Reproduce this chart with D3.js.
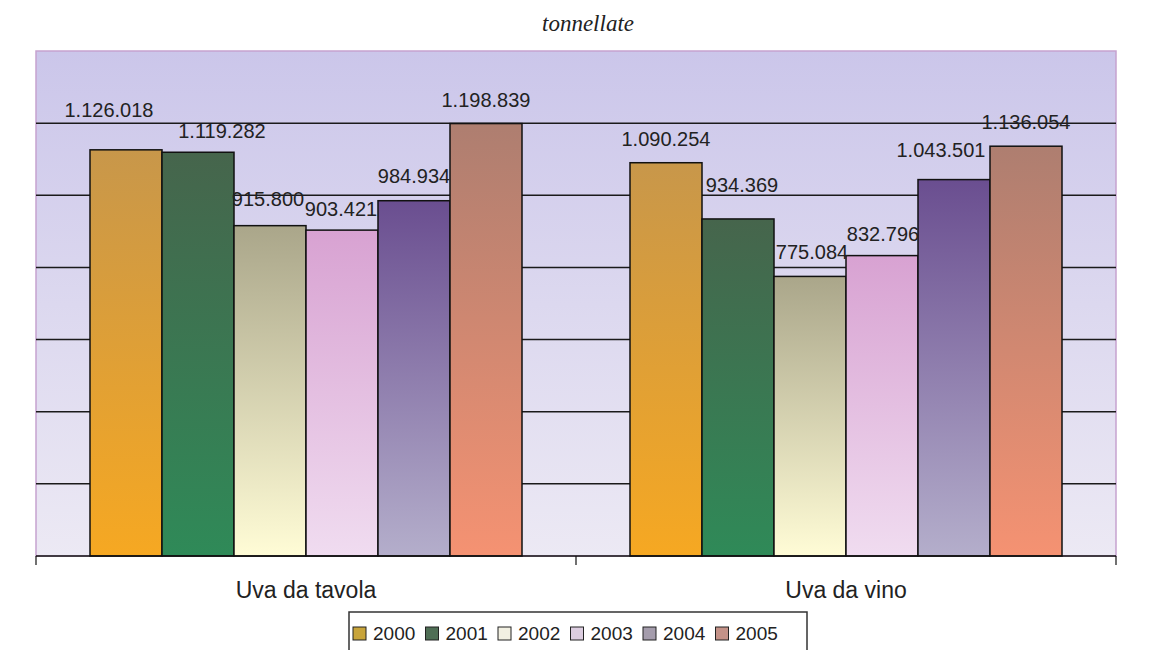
<!DOCTYPE html>
<html>
<head>
<meta charset="utf-8">
<script src="https://cdn.jsdelivr.net/npm/d3@7"></script>
<style>
  body { margin: 0; background: #fff; }
  svg { display: block; }
  .val { font-family: 'Liberation Sans', Arial, sans-serif; font-size: 20px; fill: #222; }
  .cat { font-family: 'Liberation Sans', Arial, sans-serif; font-size: 23px; fill: #222; }
  .leg { font-family: 'Liberation Sans', Arial, sans-serif; font-size: 19px; fill: #222; }
  .title { font-family: 'Liberation Serif', 'Times New Roman', serif; font-style: italic; font-size: 23px; fill: #222; }
</style>
</head>
<body>
<svg id="chart" width="1161" height="650"></svg>
<script>
const categories = ['Uva da tavola', 'Uva da vino']
const years = ['2000', '2001', '2002', '2003', '2004', '2005']
const tavola = [1126018, 1119282, 915800, 903421, 984934, 1198839]
const vino = [1090254, 934369, 775084, 832796, 1043501, 1136054]
const yTicks = [200000, 400000, 600000, 800000, 1000000, 1200000]
const yMax = 1400000

// bar fill gradients, top colour -> bottom colour
const barTop = ['#c8974a', '#46654c', '#aaa68a', '#d8a2d2', '#6a4e90', '#ae7e70']
const barBottom = ['#f6a822', '#2f8a58', '#fffcd6', '#f0dcf0', '#b4aecb', '#f59272']
const legendColors = ['#c8a43a', '#4f6e55', '#f2f0e2', '#dccde0', '#a49cac', '#c49288']

// hand placed labels in the original (dx, dy)
const labelNudge = [
  [[-17, -16], [24, 3], [-2, -3], [-1, 3], [0, -1], [0, 0]],
  [[0, 0], [4, -10], [2, 0], [1, 2], [-13, -6], [0, 0]],
]

const values = [tavola, vino]

const it = d3.formatLocale({ decimal: ',', thousands: '.', grouping: [3], currency: ['', ' €'] })
const fmt = it.format(',d')

const svg = d3.select('#chart')
const defs = svg.append('defs')

const x0 = d3.scaleBand().domain(categories).range([36, 1116])
const x1 = d3.scaleBand().domain(years).range([0, x0.bandwidth()]).paddingInner(0).paddingOuter(0.75)
const y = d3.scaleLinear().domain([0, yMax]).range([556, 51])

// gradients
let bg = defs.append('linearGradient').attr('id', 'bg').attr('x1', 0).attr('y1', 0).attr('x2', 0).attr('y2', 1)
bg.append('stop').attr('offset', 0).attr('stop-color', '#cbc6ea')
bg.append('stop').attr('offset', 0.5).attr('stop-color', '#dcd8ef')
bg.append('stop').attr('offset', 1).attr('stop-color', '#ece9f4')

years.forEach((yr, i) => {
  let g = defs.append('linearGradient').attr('id', 'g' + yr).attr('x1', 0).attr('y1', 0).attr('x2', 0).attr('y2', 1)
  g.append('stop').attr('offset', 0).attr('stop-color', barTop[i])
  g.append('stop').attr('offset', 1).attr('stop-color', barBottom[i])
})

// title
svg.append('text').classed('title', true)
  .attr('x', 588).attr('y', 31).attr('text-anchor', 'middle')
  .text('tonnellate')

// plot background
svg.append('rect')
  .attr('x', x0.range()[0]).attr('y', y(yMax))
  .attr('width', x0.range()[1] - x0.range()[0]).attr('height', y(0) - y(yMax))
  .attr('fill', 'url(#bg)')
  .attr('stroke', '#c6a2cf').attr('stroke-width', 1.5)

// grid
svg.append('g').selectAll('line')
  .data(yTicks)
  .join('line')
  .attr('x1', x0.range()[0]).attr('x2', x0.range()[1])
  .attr('y1', (d) => y(d)).attr('y2', (d) => y(d))
  .attr('stroke', '#1a1a1a').attr('stroke-width', 1.5)

// bars
let groups = svg.append('g').selectAll('g')
  .data(categories)
  .join('g')
  .attr('transform', (d) => `translate(${x0(d)},0)`)

groups.selectAll('rect')
  .data((d, ci) => values[ci].map((v, i) => ({ year: years[i], v })))
  .join('rect')
  .attr('x', (d) => x1(d.year))
  .attr('y', (d) => y(d.v))
  .attr('width', x1.bandwidth())
  .attr('height', (d) => y(0) - y(d.v))
  .attr('fill', (d) => `url(#g${d.year})`)
  .attr('stroke', '#111').attr('stroke-width', 1.5)

groups.selectAll('text')
  .data((d, ci) => values[ci].map((v, i) => ({ year: years[i], v, n: labelNudge[ci][i] })))
  .join('text')
  .classed('val', true)
  .attr('text-anchor', 'middle')
  .attr('x', (d) => x1(d.year) + x1.bandwidth() / 2 + d.n[0])
  .attr('y', (d) => y(d.v) - 17 + d.n[1])
  .text((d) => fmt(d.v))

// x axis
let axis = svg.append('g')
axis.append('line')
  .attr('x1', x0.range()[0]).attr('x2', x0.range()[1])
  .attr('y1', y(0)).attr('y2', y(0))
  .attr('stroke', '#111').attr('stroke-width', 1.5)
axis.selectAll('line.tick')
  .data(categories.map((c) => x0(c)).concat([x0.range()[1]]))
  .join('line')
  .classed('tick', true)
  .attr('x1', (d) => d).attr('x2', (d) => d)
  .attr('y1', y(0)).attr('y2', y(0) + 9)
  .attr('stroke', '#111').attr('stroke-width', 1.2)
axis.selectAll('text')
  .data(categories)
  .join('text')
  .classed('cat', true)
  .attr('text-anchor', 'middle')
  .attr('x', (d) => x0(d) + x0.bandwidth() / 2)
  .attr('y', y(0) + 42)
  .text((d) => d)

// legend
const lx = d3.scaleBand().domain(years).range([353, 788])
let legend = svg.append('g')
legend.append('rect')
  .attr('x', 349).attr('y', 612).attr('width', 458).attr('height', 44)
  .attr('fill', '#fff').attr('stroke', '#333').attr('stroke-width', 1.5)
let items = legend.selectAll('g')
  .data(years)
  .join('g')
  .attr('transform', (d) => `translate(${lx(d)},627)`)
items.append('rect')
  .attr('width', 13).attr('height', 13)
  .attr('fill', (d, i) => legendColors[i])
  .attr('stroke', '#222').attr('stroke-width', 1)
items.append('text')
  .classed('leg', true)
  .attr('x', 20).attr('y', 13)
  .text((d) => d)
</script>
</body>
</html>
